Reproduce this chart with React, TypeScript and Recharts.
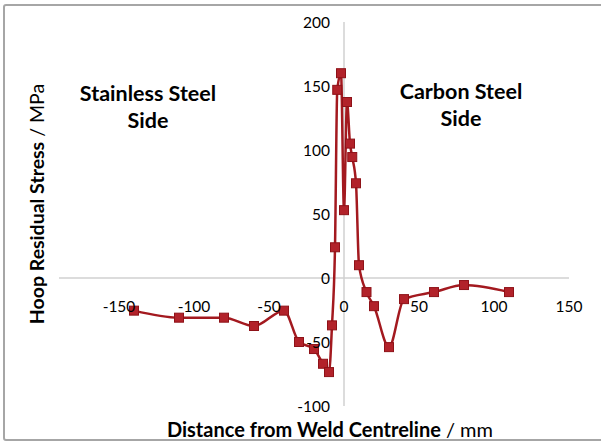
import React from 'react';
import { LineChart, Line, XAxis, YAxis, ReferenceLine, ReferenceDot } from 'recharts';

const distances = [-140, -110, -80, -60, -40, -30, -20, -14, -10, -8, -6, -4.5, -2, 0, 2, 4, 5.5, 8, 10, 15, 20, 30, 40, 60, 80, 110];
const stresses = [-25.5, -31, -31, -37.5, -25.5, -50, -55.5, -67, -73.5, -37, 24, 147, 160, 53, 137.5, 105, 94.5, 74, 10, -11, -22, -54, -16.5, -11, -5.5, -11];
const xTickLabels = [-150, -100, -50, 0, 50, 100, 150];
const yTickLabels = [-100, -50, 0, 50, 100, 150, 200];

const data = distances.map((d, i) => ({ d, s: stresses[i] }));

const FONT = 'Lato, "Open Sans", sans-serif';
const LINE = '#a3191f';

const Square = (props: any) => {
  const { cx, cy, index } = props;
  if (cx == null || cy == null) return null;
  return <rect key={index} x={cx - 4.5} y={cy - 4.5} width={9} height={9} fill="#b2222a" stroke="#8e1218" strokeWidth={1} />;
};

export default function App() {
  return (
    <div style={{ position: 'absolute', left: 0, top: 0, width: 601, height: 444, background: '#fff', overflow: 'hidden' }}>
      <LineChart width={601} height={444} data={data} margin={{ top: 22, right: 32, bottom: 38, left: 59 }}>
        <XAxis dataKey="d" type="number" domain={[-190, 150]} hide allowDataOverflow />
        <YAxis type="number" domain={[-100, 200]} hide allowDataOverflow />
        <ReferenceLine segment={[{ x: -190, y: 0 }, { x: 150, y: 0 }]} stroke="#d0d0d0" strokeWidth={1.5} />
        <ReferenceLine x={0} stroke="#d0d0d0" strokeWidth={1.5} />
        {xTickLabels.map((v) => (
          <ReferenceDot key={'x' + v} x={v} y={0} r={0} fill="none" stroke="none"
            label={{ value: String(v), position: 'bottom', offset: 23, fill: '#000', fontSize: 15.5, fontFamily: FONT }} />
        ))}
        {yTickLabels.map((v) => (
          <ReferenceDot key={'y' + v} x={0} y={v} r={0} fill="none" stroke="none"
            label={{ value: String(v), position: 'left', offset: 14, fill: '#000', fontSize: 15.5, fontFamily: FONT }} />
        ))}
        <Line type="monotone" dataKey="s" stroke={LINE} strokeWidth={2.5} dot={<Square />} isAnimationActive={false} />
      </LineChart>
      <svg width={601} height={444} style={{ position: 'absolute', left: 0, top: 0, pointerEvents: 'none' }}>
        <rect x={4} y={5} width={640} height={435} fill="none" stroke="#a6a6a6" strokeWidth={2} rx={2} />
        <text x={36} y={204} transform="rotate(-90 36 204)" textAnchor="middle" dominantBaseline="central" fontFamily={FONT} fontSize={19.5} fill="#000">
          <tspan fontWeight="bold">Hoop Residual Stress</tspan><tspan> / MPa</tspan>
        </text>
        <text x={330} y={429} textAnchor="middle" dominantBaseline="central" fontFamily={FONT} fontSize={20} fill="#000">
          <tspan fontWeight="bold">Distance from Weld Centreline</tspan><tspan> / mm</tspan>
        </text>
        <text textAnchor="middle" fontFamily={FONT} fontSize={21.5} fontWeight="bold" fill="#000">
          <tspan x={148} y={101}>Stainless Steel</tspan>
          <tspan x={148} y={128}>Side</tspan>
        </text>
        <text textAnchor="middle" fontFamily={FONT} fontSize={21.5} fontWeight="bold" fill="#000">
          <tspan x={461} y={99}>Carbon Steel</tspan>
          <tspan x={461} y={126}>Side</tspan>
        </text>
      </svg>
    </div>
  );
}
